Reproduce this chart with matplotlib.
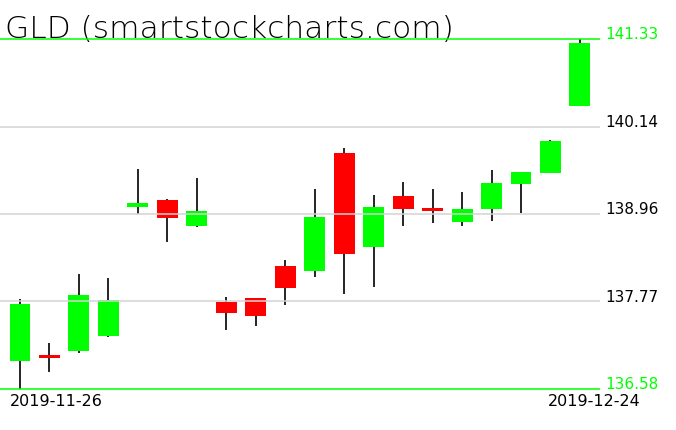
import matplotlib
matplotlib.use("Agg")
import matplotlib.pyplot as plt

# ---- data ----
dates = ["2019-11-26", "2019-11-27", "2019-11-29", "2019-12-02", "2019-12-03",
         "2019-12-04", "2019-12-05", "2019-12-06", "2019-12-09", "2019-12-10",
         "2019-12-11", "2019-12-12", "2019-12-13", "2019-12-16", "2019-12-17",
         "2019-12-18", "2019-12-19", "2019-12-20", "2019-12-23", "2019-12-24"]
opens  = [136.96, 137.03, 137.09, 137.30, 139.05, 139.15, 138.79, 137.76, 137.81, 138.25,
          138.18, 139.78, 138.51, 139.20, 139.04, 138.85, 139.02, 139.36, 139.51, 140.42]
highs  = [137.80, 137.20, 138.14, 138.09, 139.57, 139.16, 139.44, 137.83, 137.81, 138.33,
          139.29, 139.85, 139.21, 139.39, 139.29, 139.25, 139.55, 139.53, 139.96, 141.33]
lows   = [136.58, 136.81, 137.07, 137.29, 138.95, 138.58, 138.78, 137.38, 137.43, 137.72,
          138.10, 137.87, 137.96, 138.79, 138.83, 138.79, 138.86, 138.97, 139.51, 140.42]
closes = [137.73, 137.01, 137.86, 137.79, 139.10, 138.90, 139.00, 137.61, 137.57, 137.95,
          138.91, 138.41, 139.05, 139.02, 139.00, 139.02, 139.38, 139.53, 139.95, 141.28]
level_values = [141.33, 140.14, 138.96, 137.77, 136.58]
level_labels = ["141.33", "140.14", "138.96", "137.77", "136.58"]
title = "GLD (smartstockcharts.com)"

# ---- layout ----
W, H = 676, 431
DPI = 100
slot_px = 29.47      # horizontal spacing of candles in pixels
first_px = 20.0      # x pixel of first candle
plot_right_px = 600.0
top_px, bot_px = 40.0, 390.0   # pixel rows of highest / lowest level lines

hi, lo = max(level_values), min(level_values)
ppu = (bot_px - top_px) / (hi - lo)   # pixels per price unit

fig = plt.figure(figsize=(W / DPI, H / DPI), dpi=DPI)
ax = fig.add_axes([0, 0, 1, 1])
ax.axis("off")
ax.set_xlim(-first_px / slot_px, (W - first_px) / slot_px)
ax.set_ylim(hi - (H - top_px) / ppu, hi + top_px / ppu)

GREEN = "#00ff00"
RED = "#ff0000"
GRID = "#d3d3d3"

x_right = (plot_right_px - first_px) / slot_px
x_left = -first_px / slot_px

body_w = 0.71
min_body = 2.2 / ppu
for i, (o, h, l, c) in enumerate(zip(opens, highs, lows, closes)):
    col = GREEN if c >= o else RED
    ax.vlines(i, l, h, color="black", linewidth=1.2, zorder=2)
    b0 = min(o, c)
    bh = max(abs(c - o), min_body)
    if abs(c - o) < min_body:
        b0 = (o + c) / 2 - bh / 2
    ax.bar(i, bh, bottom=b0, width=body_w, color=col, edgecolor="none", zorder=3)

label_x = (605 - first_px) / slot_px
for v, lab in zip(level_values, level_labels):
    extreme = v in (hi, lo)
    lc = GREEN if extreme else GRID
    ax.hlines(v, x_left, x_right, color=lc, linewidth=1.1, zorder=4 if extreme else 3.5)
    ax.text(label_x, v + 0.5 / ppu, lab, color=GREEN if extreme else "black",
            fontsize=11, ha="left", va="baseline", zorder=5)

# date labels (first and last)
ax.text(56.5 / W, 1 - (394 / H), dates[0], transform=ax.transAxes,
        fontsize=11.5, ha="center", va="top", color="black")
ax.text(594.5 / W, 1 - (394 / H), dates[-1], transform=ax.transAxes,
        fontsize=11.5, ha="center", va="top", color="black")

# title
ax.text(5 / W, 1 - 38 / H, title, transform=ax.transAxes, fontsize=22.5,
        ha="left", va="baseline", color="black", fontweight="light")

fig.savefig("out.png", dpi=DPI)
